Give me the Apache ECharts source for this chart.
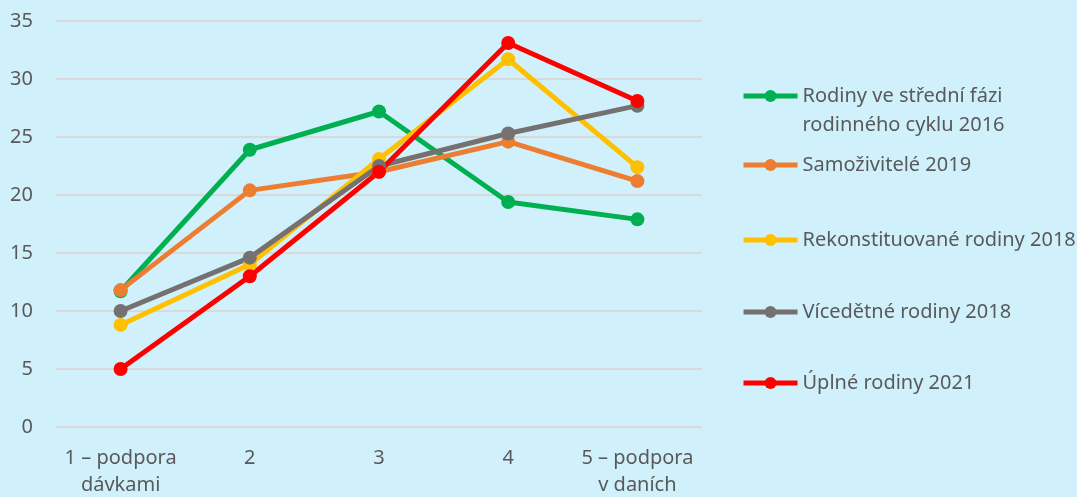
<!DOCTYPE html>
<html lang="cs">
<head>
    <meta charset="UTF-8">
    <title>podpora rodin</title>
    <script type="text/javascript" src="https://cdn.jsdelivr.net/npm/echarts@6/dist/echarts.min.js"></script>
    <style>
        html, body { margin: 0; padding: 0; background: #D0F1FC; }
    </style>
</head>
<body>
    <div id="main" style="width: 1077px; height: 497px;"></div>
    <script type="text/javascript">
        // categories (x)
        var categories = ['1 – podpora\ndávkami', '2', '3', '4', '5 – podpora\nv daních'];
        var yTicks = [0, 5, 10, 15, 20, 25, 30, 35];

        // series
        var names = [
            'Rodiny ve střední fázi rodinného cyklu 2016',
            'Samoživitelé 2019',
            'Rekonstituované rodiny 2018',
            'Vícedětné rodiny 2018',
            'Úplné rodiny 2021'
        ];
        var stredniFaze = [11.7, 23.9, 27.2, 19.4, 17.9];
        var samozivitele = [11.8, 20.4, 22.0, 24.6, 21.2];
        var rekonstituovane = [8.8, 14.0, 23.1, 31.7, 22.4];
        var vicedetne = [10.0, 14.6, 22.5, 25.3, 27.7];
        var uplne = [5.0, 13.0, 22.0, 33.1, 28.1];

        var values = [stredniFaze, samozivitele, rekonstituovane, vicedetne, uplne];
        var colors = ['#00B050', '#ED7D31', '#FFC000', '#767171', '#FF0000'];
        var legendY = [96, 165, 240, 312, 383]; // icon centres

        var font = 'Noto Sans';
        var txt = '#595959';
        var fs = 20;

        var myChart = echarts.init(document.getElementById('main'));

        var legends = names.map(function (n, i) {
            var lg = {
                data: [n],
                orient: 'vertical',
                left: 741,
                padding: 0,
                itemWidth: 54,
                itemHeight: 15,
                itemGap: 0,
                lineStyle: { width: 5 },
                textStyle: { fontFamily: font, fontSize: fs, color: txt, lineHeight: 29 }
            };
            if (i === 0) {
                // blank first line keeps the icon level with the first text line
                lg.formatter = function () { return ' \nRodiny ve střední fázi\nrodinného cyklu 2016'; };
                lg.top = legendY[i] - 43.5;
            } else {
                lg.top = legendY[i] - 14.5;
            }
            return lg;
        });

        myChart.setOption({
            backgroundColor: '#D0F1FC',
            color: colors,
            animation: false,
            grid: { left: 56, right: 375, top: 21, bottom: 70, outerBoundsMode: 'none' },
            legend: legends,
            xAxis: {
                type: 'category',
                data: categories,
                axisLine: { show: false },
                axisTick: { show: false },
                axisLabel: {
                    interval: 0,
                    fontFamily: font, fontSize: fs, color: txt,
                    lineHeight: 27, margin: 18
                }
            },
            yAxis: {
                type: 'value',
                min: yTicks[0],
                max: yTicks[yTicks.length - 1],
                interval: 5,
                axisLabel: { fontFamily: font, fontSize: fs, color: txt, margin: 23 },
                splitLine: { lineStyle: { color: '#D9D9D9', width: 2 } }
            },
            series: names.map(function (n, i) {
                return {
                    name: n,
                    type: 'line',
                    data: values[i],
                    symbol: 'circle',
                    symbolSize: 14,
                    lineStyle: { width: 5 },
                    itemStyle: { color: colors[i] },
                    emphasis: { disabled: true }
                };
            })
        });
    </script>
</body>
</html>
